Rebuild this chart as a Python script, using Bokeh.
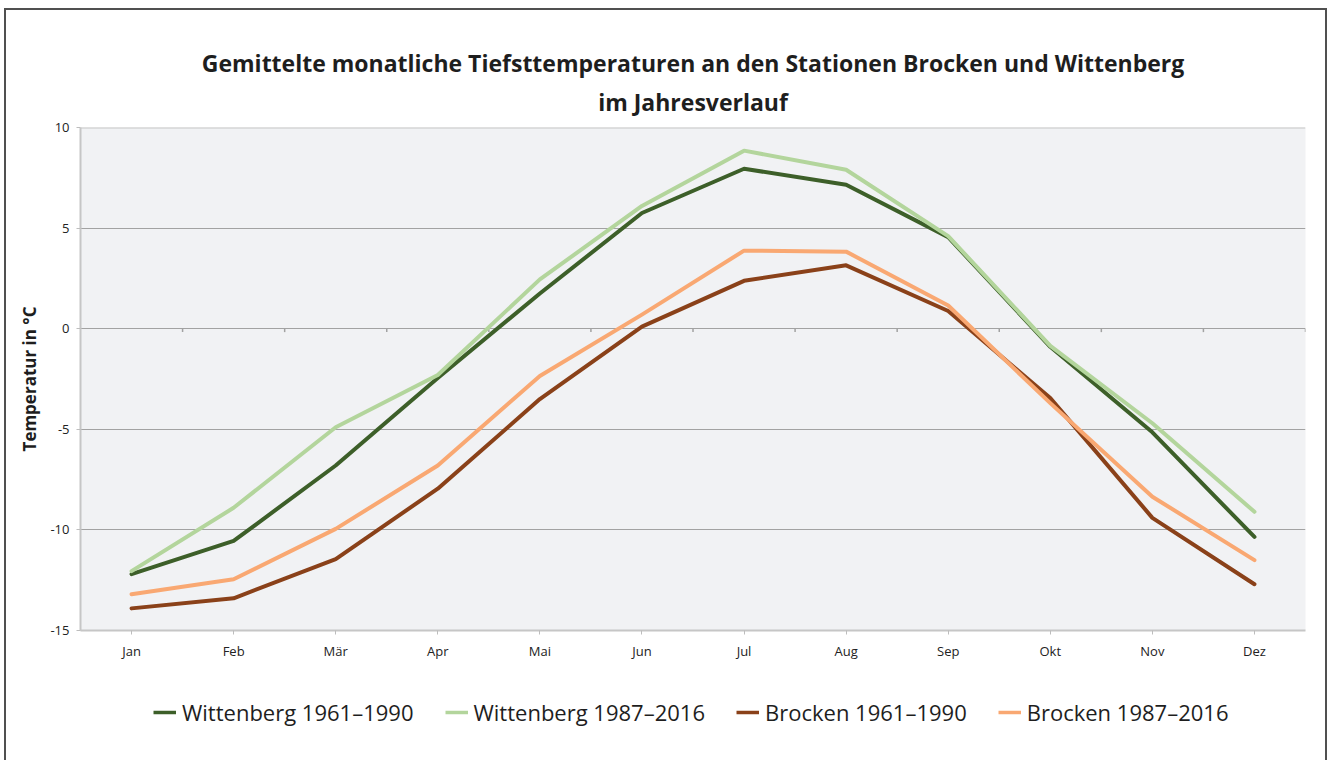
from bokeh.plotting import figure
from bokeh.layouts import column
from bokeh.models import FactorRange, Range1d, FixedTicker, Span, Legend, LegendItem, Title
from bokeh.embed import file_html
from bokeh.resources import INLINE

months = ["Jan", "Feb", "Mär", "Apr", "Mai", "Jun", "Jul", "Aug", "Sep", "Okt", "Nov", "Dez"]

wittenberg_1961_1990 = [-12.2, -10.55, -6.8, -2.45, 1.75, 5.75, 7.95, 7.15, 4.55, -0.9, -5.15, -10.35]
wittenberg_1987_2016 = [-12.05, -8.9, -4.9, -2.3, 2.45, 6.1, 8.85, 7.9, 4.6, -0.85, -4.7, -9.1]
brocken_1961_1990 = [-13.9, -13.4, -11.45, -7.95, -3.5, 0.1, 2.38, 3.15, 0.88, -3.45, -9.4, -12.7]
brocken_1987_2016 = [-13.2, -12.45, -9.95, -6.8, -2.35, 0.7, 3.88, 3.83, 1.15, -3.7, -8.35, -11.5]

series_labels = ["Wittenberg 1961–1990", "Wittenberg 1987–2016", "Brocken 1961–1990", "Brocken 1987–2016"]
series_values = [wittenberg_1961_1990, wittenberg_1987_2016, brocken_1961_1990, brocken_1987_2016]
series_colors = ["#3d5f29", "#b3d59c", "#8a4119", "#f9a872"]

title_lines = ["Gemittelte monatliche Tiefsttemperaturen an den Stationen Brocken und Wittenberg",
               "im Jahresverlauf"]

y_ticks = [-15, -10, -5, 0, 5, 10]
grid_ticks = [-10, -5, 0, 5]

FONT = "Open Sans"
FRAME = "#505050"

p = figure(
    x_range=FactorRange(*months, range_padding=0),
    y_range=Range1d(-15, 10),
    width=1335, height=662,
    output_backend="svg", toolbar_location=None,
    min_border_left=80, min_border_right=30,
    min_border_top=127, min_border_bottom=30,
)
p.styles = {"box-shadow": ("inset 4px 0 0 #ffffff, inset 0 8px 0 #ffffff, inset -8px 0 0 #ffffff, "
                           f"inset 6px 0 0 {FRAME}, inset 0 10px 0 {FRAME}, inset -10px 0 0 {FRAME}")}
p.border_fill_color = None
p.background_fill_color = "#f1f2f4"
p.outline_line_color = None

# titles (first added is nearest the frame)
p.add_layout(Title(text=title_lines[1], align="center", vertical_align="top",
                   text_font=FONT, text_font_size="23px", text_font_style="bold",
                   text_color="#1e1e1e", standoff=15, offset=-4), "above")
p.add_layout(Title(text=title_lines[0], align="center", vertical_align="bottom",
                   text_font=FONT, text_font_size="23px", text_font_style="bold",
                   text_color="#1e1e1e", standoff=0, offset=-4), "above")

# grid
p.xgrid.visible = False
p.ygrid.ticker = FixedTicker(ticks=grid_ticks)
p.ygrid.grid_line_color = "#a2a2a2"
p.ygrid.grid_line_width = 1
p.add_layout(Span(location=max(y_ticks), dimension="width", line_color="#c6c6c6", line_width=2))

# y axis
p.yaxis.ticker = FixedTicker(ticks=y_ticks)
p.yaxis.major_label_overrides = {t: str(t) for t in y_ticks}
p.yaxis.axis_line_color = "#c6c6c6"
p.yaxis.axis_line_width = 2
p.yaxis.major_tick_line_color = "#bdbdbd"
p.yaxis.major_tick_out = 4
p.yaxis.major_tick_in = 0
p.yaxis.minor_tick_line_color = None
p.yaxis.major_label_standoff = 7
p.yaxis.major_label_text_font = FONT
p.yaxis.major_label_text_font_size = "13px"
p.yaxis.major_label_text_color = "#222222"
p.yaxis.axis_label = "Temperatur in °C"
p.yaxis.axis_label_text_font = FONT
p.yaxis.axis_label_text_font_size = "17px"
p.yaxis.axis_label_text_font_style = "bold"
p.yaxis.axis_label_text_color = "#1e1e1e"
p.yaxis.axis_label_standoff = 6

# x axis
p.xaxis.axis_line_color = "#c6c6c6"
p.xaxis.axis_line_width = 2
p.xaxis.major_tick_line_color = "#bdbdbd"
p.xaxis.major_tick_out = 4
p.xaxis.major_tick_in = 0
p.xaxis.major_label_standoff = 7
p.xaxis.major_label_text_font = FONT
p.xaxis.major_label_text_font_size = "13px"
p.xaxis.major_label_text_color = "#222222"

# category-boundary ticks on the zero line
bounds = list(range(1, len(months) + 1))
p.segment(x0=bounds, y0=[0] * len(bounds), x1=bounds, y1=[-0.17] * len(bounds),
          line_color="#a2a2a2", line_width=1.5)

for vals, col in zip(series_values, series_colors):
    p.line(months, vals, line_color=col, line_width=4, line_join="round", line_cap="round")

# legend strip (separate figure below the chart; its frame is aligned with the chart's)
lg = figure(width=1335, height=98, output_backend="svg", toolbar_location=None,
            x_range=Range1d(0, 1), y_range=Range1d(0, 1),
            x_axis_location=None, y_axis_location=None, min_border=0)
lg.styles = {"box-shadow": ("inset 4px 0 0 #ffffff, inset -8px 0 0 #ffffff, "
                            f"inset 6px 0 0 {FRAME}, inset -10px 0 0 {FRAME}")}
lg.border_fill_color = None
lg.background_fill_color = None
lg.outline_line_color = None
lg.xgrid.visible = False
lg.ygrid.visible = False

items = []
idx = list(range(len(months)))
for lab, vals, col in zip(series_labels, series_values, series_colors):
    r = lg.line(x=idx, y=vals, line_color=col, line_width=3.5, line_cap="butt", visible=False)
    items.append(LegendItem(label=lab, renderers=[r]))

legend = Legend(
    items=items, orientation="horizontal", location=(73, 33),
    label_text_font=FONT, label_text_font_size="22px", label_text_color="#1e1e1e",
    glyph_width=23, glyph_height=20, label_standoff=6, spacing=31,
    padding=0, margin=0, border_line_color=None, background_fill_alpha=0,
    inactive_fill_alpha=0,
)
lg.add_layout(legend, "center")

layout = column(p, lg, spacing=0)
open("out.html", "w").write(file_html(layout, INLINE))
